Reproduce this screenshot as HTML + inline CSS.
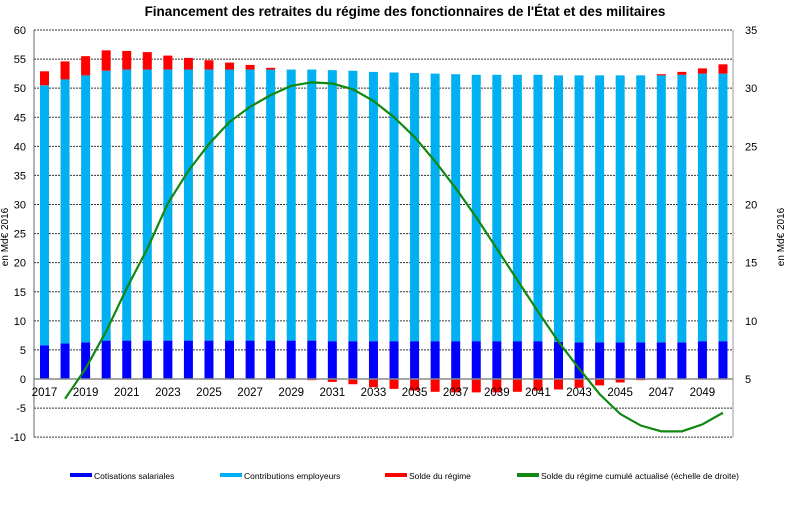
<!DOCTYPE html>
<html><head><meta charset="utf-8"><style>
body{margin:0;background:#fff;font-family:"Liberation Sans",sans-serif}
svg text{font-family:"Liberation Sans",sans-serif}
</style></head><body>
<svg id="c" width="801" height="515"></svg>
<script>
const years=[];for(let y=2017;y<=2050;y++)years.push(y);
const cotisations=[5.8,6.1,6.3,6.6,6.6,6.6,6.6,6.6,6.6,6.6,6.6,6.6,6.6,6.6,6.5,6.5,6.5,6.5,6.5,6.5,6.5,6.5,6.5,6.5,6.5,6.4,6.3,6.3,6.3,6.3,6.3,6.3,6.5,6.5];
const contributions=[44.7,45.4,45.9,46.4,46.6,46.6,46.6,46.6,46.6,46.6,46.6,46.6,46.6,46.6,46.6,46.5,46.3,46.2,46.1,46.0,45.9,45.8,45.8,45.8,45.8,45.8,45.9,45.9,45.9,45.9,45.9,46.0,46.0,46.0];
const solde=[2.4,3.1,3.3,3.5,3.2,3.0,2.4,2.0,1.6,1.2,0.8,0.3,-0.1,-0.2,-0.5,-0.9,-1.4,-1.7,-2.0,-2.2,-2.3,-2.3,-2.3,-2.2,-2.0,-1.8,-1.5,-1.1,-0.6,-0.2,0.2,0.5,0.9,1.6];
const cumulYears=years.slice(1);
const cumul=[3.3,5.9,9.1,12.8,16.2,20.1,22.9,25.2,27.1,28.4,29.4,30.2,30.5,30.4,29.9,28.9,27.5,25.8,23.7,21.4,18.9,16.2,13.5,10.8,8.2,5.9,3.7,2.0,1.0,0.5,0.5,1.1,2.1];
const leftTicks=[-10,-5,0,5,10,15,20,25,30,35,40,45,50,55,60];
const rightTicks=[5,10,15,20,25,30,35];

const NS="http://www.w3.org/2000/svg",svg=document.getElementById('c');
function el(t,a,p){const e=document.createElementNS(NS,t);for(const k in a)e.setAttribute(k,a[k]);(p||svg).appendChild(e);return e;}
const X0=34,X1=733,Y60=30,Y0=379;
const yL=v=>Y0-(v)*(Y0-Y60)/60;
const yR=v=>yL(v*2-10);
const xB=i=>44.5+i*20.56;
const bw=9;
const gg=el('g',{});
leftTicks.forEach(v=>{if(v!==0)el('line',{x1:X0,x2:X1,y1:yL(v),y2:yL(v),stroke:'#333','stroke-dasharray':'2,1','stroke-width':1},gg);});
const la=el('g',{'font-size':11,'text-anchor':'end',fill:'#000'});
leftTicks.forEach(v=>{const t=el('text',{x:26,y:yL(v)+4},la);t.textContent=v;});
const ra=el('g',{'font-size':11,'text-anchor':'start',fill:'#000'});
rightTicks.forEach(v=>{const t=el('text',{x:745,y:yR(v)+4},ra);t.textContent=v;});
const bars=el('g',{});
years.forEach((yr,i)=>{
 const x=xB(i)-bw/2,c=cotisations[i],k=contributions[i],s=solde[i];
 let r=el('rect',{x:x,y:yL(c),width:bw,height:yL(0)-yL(c),fill:'#0000ff'},bars);
 
 r=el('rect',{x:x,y:yL(c+k),width:bw,height:yL(c)-yL(c+k),fill:'#00b0f0'},bars);
 
 if(s>=0){r=el('rect',{x:x,y:yL(c+k+s),width:bw,height:yL(c+k)-yL(c+k+s),fill:'#ff0000'},bars);}
 else{r=el('rect',{x:x,y:yL(0),width:bw,height:yL(s)-yL(0),fill:'#ff0000'},bars);}
 
});
el('line',{x1:X0,x2:X1,y1:yL(0),y2:yL(0),stroke:'#888','stroke-width':1.5});
el('line',{x1:X0,x2:X0,y1:Y60,y2:yL(-10),stroke:'#666','stroke-width':1});
el('line',{x1:X1,x2:X1,y1:Y60,y2:yL(-10),stroke:'#999','stroke-width':1});
const xl=el('g',{'font-size':11.5,'text-anchor':'middle',fill:'#000'});
years.forEach((yr,i)=>{if(yr%2===1){const t=el('text',{x:xB(i),y:396},xl);t.textContent=yr;}});
const pts=cumulYears.map((yr,i)=>xB(years.indexOf(yr))+','+yR(cumul[i])).join(' ');
const pl=el('polyline',{points:pts,fill:'none',stroke:'#118811','stroke-width':2.2});

let t=el('text',{x:405,y:16,'font-size':13.5,'font-weight':'bold','text-anchor':'middle'});t.textContent="Financement  des retraites  du régime des fonctionnaires  de l'État et des militaires";

t=el('text',{x:0,y:0,'font-size':10,'text-anchor':'middle',transform:'translate(8,237) rotate(-90)'});t.textContent='en Md€ 2016';

t=el('text',{x:0,y:0,'font-size':10,'text-anchor':'middle',transform:'translate(784,237) rotate(-90)'});t.textContent='en Md€ 2016';

const lg=el('g',{'font-size':8.5});
[[70,'#0000ff','Cotisations salariales'],[220,'#00b0f0','Contributions employeurs'],[385,'#ff0000','Solde du régime'],[517,'#118811','Solde du régime cumulé actualisé (échelle de droite)']].forEach(d=>{
 const g=el('g',{},lg);
 el('rect',{x:d[0],y:473,width:22,height:4,fill:d[1]},g);
 const tt=el('text',{x:d[0]+24,y:479},g);tt.textContent=d[2];
});
</script>
</body></html>
